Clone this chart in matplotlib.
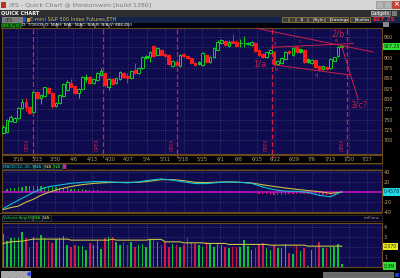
import matplotlib
matplotlib.use('Agg')
import matplotlib.pyplot as plt
from matplotlib.patches import Rectangle
import numpy as np

# ---------------- data ----------------
opens = [717.5,720.7,746.6,745.0,753.2,777.5,793.5,781.3,769.2,817.7,801.7,807.3,827.5,813.9,783.0,789.6,807.3,821.9,839.6,831.6,
         813.9,824.3,848.6,854.2,838.9,846.1,858.3,863.9,828.4,847.9,838.2,848.6,862.4,856.1,850.3,870.4,863.9,874.5,899.3,901.2,
         928.7,906.8,918.9,909.2,906.8,880.1,890.5,880.1,909.2,904.4,898.8,888.0,884.2,882.5,906.8,890.5,902.7,918.9,935.2,941.5,
         928.7,940.8,939.2,935.2,935.0,933.5,931.1,936.7,918.9,909.2,902.7,910.9,914.8,884.9,888.0,896.6,917.5,906.8,925.5,914.8,
         918.9,890.5,886.7,894.9,880.1,872.4,878.7,874.5,893.0,904.4,925.5]
highs = [736.9,751.5,761.2,756.0,780.0,799.3,801.7,783.0,820.0,820.0,811.0,830.0,830.0,816.0,793.0,812.0,839.0,846.1,848.0,834.0,
         826.0,855.0,860.0,857.0,851.0,865.0,874.5,866.0,851.0,850.0,853.0,869.0,865.0,862.0,871.0,886.7,877.0,904.0,907.0,917.0,
         931.0,925.5,921.0,911.0,909.0,895.0,893.0,909.0,912.0,906.0,901.0,890.0,892.0,913.0,909.0,905.0,925.0,942.0,946.0,944.0,
         942.0,957.5,942.0,944.9,953.0,939.0,941.0,939.0,921.0,911.0,917.0,921.0,917.0,895.0,901.0,917.0,920.0,925.0,928.0,923.0,
         921.0,899.0,897.0,897.0,882.0,882.0,881.0,899.0,903.0,929.0,930.0]
lows = [715.1,717.5,744.2,743.0,751.0,776.0,771.6,763.0,766.0,799.0,787.9,805.0,812.0,777.5,781.0,788.0,805.0,820.0,828.0,811.0,
        801.7,822.0,842.0,836.0,836.0,844.0,856.0,830.0,822.0,834.0,836.0,846.0,852.0,838.0,848.0,861.0,861.0,872.0,897.0,890.5,
        902.0,905.0,904.0,902.0,882.0,878.0,880.0,878.0,902.0,896.0,884.0,880.0,882.0,880.0,888.0,888.0,900.0,917.0,933.0,929.0,
        926.0,935.0,926.0,927.0,927.0,931.0,929.0,914.0,904.0,900.0,900.0,908.0,882.0,882.0,886.0,894.0,910.0,905.0,912.0,912.0,
        888.0,888.0,884.0,876.0,868.0,870.0,870.0,872.0,891.0,902.0,924.0]
closes = [732.8,749.1,756.3,753.2,777.5,793.5,779.9,765.3,817.7,801.7,809.7,828.4,813.9,783.0,791.0,809.7,836.4,842.0,829.9,813.9,
          824.3,852.7,854.2,838.9,848.6,862.4,868.7,834.0,848.6,836.4,850.3,866.3,854.2,850.3,868.7,863.9,874.5,901.2,904.4,914.8,
          904.4,923.0,906.8,904.4,884.2,893.0,882.5,906.8,904.4,898.8,886.7,882.5,889.8,910.9,890.5,902.7,923.0,939.2,943.2,931.1,
          939.2,936.7,928.7,936.7,937.0,936.7,939.2,916.5,906.8,902.7,914.8,918.9,884.9,893.0,899.0,914.8,912.7,923.0,914.8,920.7,
          890.5,896.6,894.9,878.7,872.4,880.1,872.4,896.6,901.2,927.0,928.7]
volumes = [3.24,2.57,2.84,2.9,2.9,3.5,2.84,1.9,3.0,2.5,3.17,2.9,2.57,2.34,2.77,2.84,3.07,2.17,2.0,2.17,
           2.1,2.1,1.67,2.4,2.17,2.57,1.74,2.84,3.0,3.0,2.5,2.17,2.5,2.17,2.5,2.0,2.17,2.24,2.0,2.74,
           2.74,2.5,2.17,2.5,2.0,2.24,2.17,2.0,2.17,2.84,2.5,2.24,2.17,2.0,2.5,2.24,2.0,2.24,2.17,2.0,
           1.9,2.0,2.0,2.0,2.67,2.1,1.67,1.9,2.17,2.34,1.9,1.67,2.17,1.84,1.84,2.24,1.4,1.34,2.17,1.57,
           1.9,0.1,1.67,2.0,2.5,1.84,1.9,2.0,2.0,2.24,0.3]
vol_avg_idx = [0,2,5,8,17,18,28,29,30,38,39,42,43,47,48,53,54,59,60,70,71,80,81,90]
vol_avg_val = [2.34,2.5,2.57,2.77,2.77,2.67,2.67,2.77,2.67,2.67,2.74,2.74,2.5,2.5,2.4,2.4,2.34,2.34,2.24,2.24,2.17,2.17,2.07,2.07]

macd_idx = [0,2,4,6,8,10,12,15,18,21,24,27,30,33,36,39,42,45,48,51,54,57,60,63,66,69,72,75,78,81,84,87,90]
macd_val = [-34,-25,-17,-9,-1,6,10.5,14,17.5,19.5,21,21,19.6,18.5,20.5,24,26.5,24,20.5,17,17,19,20.5,19.5,17.5,10,4.5,1.5,1.2,-1,-7,-10,0.5]
macd_avg = [-36,-32,-29,-21,-15,-7,-1,6,11,14.9,17.3,18.8,19.6,19.6,19.6,22,25,25,23,19.5,19,20,20.4,19.6,18.2,14.5,11,8,5.2,2.8,0.5,-3,-0.5]
macd_diff = [2,5,7,8,10,11,12,13,12,13,12,11,11,10,9,8,7,7,6,5,5,5,4,4,3,3,2,2,1,0.5,0,-0.5,-1,-1,0,0.5,1,1.5,2,
             2,2,1.5,1.5,1,0,-0.5,-1,-1.5,-2,-2.5,-2.5,-2,-1.5,-1,-0.5,0,0.5,0.5,0.5,0.5,0,0,-0.5,-0.5,-1,
             -1,-2,-3,-4,-4.5,-5,-5.5,-6,-6,-6,-5.5,-5,-4.5,-4,-4,-3.5,-3.5,-4,-5,-6,-6.5,-6.5,-6,-4,-2,0.5]

week_labels = ['3/16','3/23','3/30','4/6','4/13','4/20','4/27','5/4','5/11','5/18','5/25','6/1','6/8','6/15',
               '6/22','6/29','7/6','7/13','7/20','7/27']
price_ticks = [700,725,750,775,800,825,850,875,900,925,950]
price_tick_labels = ['700','725','750','775','800','825','850','875','900','','950']
macd_ticks = [-40, -20, 20, 40]
vol_ticks = [1, 2, 3, 4]
vol_tick_labels = ['1', '', '3', '4']
expiry_idx = [7.9, 26.5, 46.3, 71.5, 91.5]
last_price = '927.25'

# trend lines (idx, price)
trend_lines = [((66.9, 972.3), (98.3, 914.1)),
               ((71.4, 925.5), (93.1, 934.7)),
               ((72.3, 882.5), (92.2, 858.3)),
               ((90.0, 927.2), (94.4, 797.9))]
wave_big = [('2/b', 89.0, 956.6), ('1/a', 68.3, 883.8), ('3/c?', 94.6, 785.5)]
wave_small = [('a', 72.0, 933.5), ('b', 72.5, 872.0), ('c', 78.9, 939.0), ('d', 83.2, 856.6), ('e', 88.7, 941.5)]

# ---------------- style ----------------
W, H = 400, 278
NAVY = '#0e0b4f'
GRID = '#55557a'
GREEN = '#10d020'
RED = '#ff1a1a'
ANN = '#d0204a'
TAN = '#bca27a'
BROWN = '#6a4a1c'

fig = plt.figure(figsize=(W/100, H/100), dpi=100)
fig.patch.set_facecolor('black')

def pax(x0, y0, x1, y1, **kw):
    return fig.add_axes([x0/W, 1 - y1/H, (x1-x0)/W, (y1-y0)/H], **kw)

bg = pax(0, 0, W, H)
bg.set_xlim(0, W); bg.set_ylim(H, 0); bg.axis('off')

def rect(x, y, w, h, fc, ec='none', lw=0.5, z=1):
    bg.add_patch(Rectangle((x, y), w, h, facecolor=fc, edgecolor=ec, lw=lw, zorder=z))

def txt(x, y, s, c='white', fs=3.5, ha='left', weight='normal', z=3):
    bg.text(x, y, s, color=c, fontsize=fs, ha=ha, va='center', weight=weight, zorder=z)

# title bar
rect(0, 0, 400, 10, '#d6d6d6')
rect(1, 2, 5, 6, '#c03020')
txt(9, 5, '/ES - Quick Chart @ thinkorswim [build 1380]', '#7a7a7a', 4.5)
rect(376, 1, 7, 7, '#b4b4b4', '#909090')
rect(384, 1, 7, 7, '#b4b4b4', '#909090')
rect(392, 1, 8, 7, '#d04030', '#a03020')
txt(396, 4.5, '×', 'white', 5, 'center', 'bold')
# quick chart row
rect(0, 10, 400, 6.5, '#2e2e2e')
txt(1, 13.3, 'QUICK CHART', 'white', 3.6, weight='bold')
rect(371, 10.7, 19, 5, '#5a5a5a', '#8a8a8a')
txt(380.5, 13.3, 'Gadgets', 'white', 3.3, 'center')
rect(392, 10.7, 5, 5, '#7a7a7a')
# toolbar row
rect(0, 16.5, 400, 6.5, '#15244a')
rect(2, 17.2, 20, 5, '#7a7a7a', '#9a9a9a')
txt(5, 19.7, '/ES', '#2a2a2a', 3.3)
rect(22.5, 17.2, 3, 5, '#2050c0')
rect(26.5, 17.7, 3, 4, '#e0a020')
txt(30, 19.7, 'E-mini S&P 500 Index Futures,ETH', '#e8c030', 3.6)
for x0, x1, lab in [(282, 288, ''), (289, 295, ''), (296, 307, '1|'), (308, 313, ''), (313, 324, 'Style'),
                    (325, 330, ''), (330, 348, 'Drawings'), (350, 355, ''), (355, 370, 'Studies')]:
    rect(x0, 17.2, x1 - x0, 5, '#3c3c3c', '#a08040')
    if lab:
        txt((x0 + x1) / 2, 19.7, lab, 'white', 3.0, 'center')
txt(373, 19.7, last_price, '#ff2020', 4.2, weight='bold')
# info row
rect(0, 23, 400, 5, '#00000c')
rect(1, 23.4, 19, 4.3, '#004a00', '#208020')
txt(2.5, 25.5, '/ES 2y D', '#40f040', 3.0)
for x0, x1, lab in [(21, 43, 'D: 7/16/09'), (44, 56, 'O: N/A'), (57, 68, 'H: N/A'), (69, 80, 'L: N/A'),
                    (81, 94, 'C: N/A'), (95, 108, 'R: N/A'), (109, 128, 'V: 886,400')]:
    rect(x0, 23.4, x1 - x0, 4.3, '#0a0a0a', '#606060')
    txt(x0 + 1, 25.5, lab, 'white', 3.0)
rect(383, 21.5, 6, 5.5, '#8a8a8a')

n = len(opens)
xs = np.arange(n)
xl = (-0.35, 100.7)
week_pos = 4.0 + 4.88 * np.arange(len(week_labels))

def style_panel(a):
    a.set_facecolor(NAVY)
    a.set_xlim(*xl)
    for s in a.spines.values():
        s.set_color(BROWN); s.set_linewidth(0.8)
    a.set_xticks(week_pos)
    a.tick_params(axis='x', length=0, labelbottom=False)
    a.grid(True, color=GRID, ls=(0, (1, 2)), lw=0.5)
    a.set_axisbelow(True)
    a.yaxis.tick_right()
    a.tick_params(axis='y', length=0, labelsize=3.5, labelcolor=TAN, pad=1.5)

# ---------------- main price panel ----------------
ax = pax(2, 28, 382, 154)
style_panel(ax)
ax.set_ylim(666.5, 972.3)
ax.set_yticks(price_ticks)
ax.set_yticklabels(price_tick_labels)
for i in range(n):
    o, h, l, c = opens[i], highs[i], lows[i], closes[i]
    up = c >= o
    col = GREEN if up else RED
    ax.vlines(i, l, h, color=col, lw=0.7, zorder=3)
    bot = min(o, c); ht = max(abs(c - o), 1.5)
    ax.add_patch(Rectangle((i - 0.36, bot), 0.72, ht, facecolor=(NAVY if up and ht > 7 else col),
                           edgecolor=col, lw=0.7, zorder=4))
for e in expiry_idx:
    ax.axvline(e, color=ANN, lw=0.9, ls=(0, (4, 2)), zorder=2)
    ax.text(e - 0.8, 690, 'OPEX', color=ANN, fontsize=3.3, rotation=90, ha='right', va='center', zorder=5)
for (x0, y0), (x1, y1) in trend_lines:
    ax.plot([x0, x1], [y0, y1], color=ANN, lw=0.7, zorder=6, clip_on=True)
for s, x, y in wave_big:
    ax.text(x, y, s, color=ANN, fontsize=6, ha='center', va='center', zorder=7)
for s, x, y in wave_small:
    ax.text(x, y, s, color=ANN, fontsize=4, ha='center', va='center', zorder=7)
ax.text(1.005, (927.25 - 666.5) / (972.3 - 666.5), last_price, transform=ax.transAxes, fontsize=3.4,
        color='#003000', ha='left', va='center', zorder=8,
        bbox=dict(boxstyle='square,pad=0.25', fc='#30e030', ec='none'), clip_on=False)

# ---------------- date strip ----------------
dax = pax(2, 155, 382, 163)
dax.set_facecolor('black'); dax.set_xlim(*xl); dax.set_ylim(0, 1)
dax.set_xticks([]); dax.set_yticks([])
for s in dax.spines.values():
    s.set_color(BROWN); s.set_linewidth(0.8)
for p, lab in zip(week_pos, week_labels):
    dax.text(p, 0.45, lab, color=TAN, fontsize=3.5, ha='center', va='center')
for e in expiry_idx:
    dax.plot([e, e], [0.75, 1], color=ANN, lw=0.8)

# ---------------- MACD header ----------------
rect(2, 163.8, 31, 5.5, '#06101e', '#405060')
txt(3, 166.6, 'MACD(12, 26, 9)', '#20d0e0', 3.0)
rect(34, 163.8, 9, 5.5, '#06101e', '#405060'); txt(35, 166.6, 'N/A', '#20d0e0', 3.0)
rect(44, 163.8, 8.5, 5.5, '#06101e', '#405060'); txt(45, 166.6, 'N/A', '#d8d040', 3.0)
rect(53, 163.8, 9, 5.5, '#06101e', '#405060'); txt(54, 166.6, 'N/A', '#30d030', 3.0)
rect(63, 163.8, 2.5, 5.5, '#c020c0')
rect(66, 163.8, 316, 5.5, '#00002c', '#403020')

# ---------------- MACD panel ----------------
mx = pax(2, 170, 382, 212)
style_panel(mx)
mx.set_ylim(-41, 44.7)
mx.set_yticks(macd_ticks)
mx.set_yticklabels([str(t) for t in macd_ticks])
dcol = ['#10b020' if d >= 0 else '#d01860' for d in macd_diff]
mx.bar(xs, macd_diff, width=0.35, color=dcol, zorder=2)
mx.axhline(0, color='#c010c0', lw=1.2, zorder=3)
mx.plot(macd_idx, macd_avg, color='#c8c040', lw=0.8, zorder=4)
mx.plot(macd_idx, macd_val, color='#10c0d8', lw=0.8, zorder=5)
mx.text(1.005, 41 / 85.7, '0.4578', transform=mx.transAxes, fontsize=3.3, color='#003040', ha='left',
        va='center', bbox=dict(boxstyle='square,pad=0.25', fc='#20d8e8', ec='none'), clip_on=False)

# ---------------- Volume header ----------------
rect(0, 212.5, 382, 1.2, BROWN)
rect(2, 215, 30, 5.8, '#06101e', '#405060')
txt(2.8, 217.9, 'Volume Avg(50)', '#30d030', 2.8)
rect(33, 215, 8.5, 5.8, '#06101e', '#405060'); txt(34, 217.9, 'N/A', '#30d030', 3.0)
rect(42, 215, 8.5, 5.8, '#06101e', '#405060'); txt(43, 217.9, 'N/A', '#d8d040', 3.0)
rect(51, 215, 331, 5.8, '#00002c', '#403020')
txt(380, 217.9, 'millions', TAN, 3.0, 'right')

# ---------------- Volume panel ----------------
vx = pax(2, 223, 382, 267)
style_panel(vx)
vx.set_ylim(0, 4.37)
vx.set_yticks(vol_ticks)
vx.set_yticklabels(vol_tick_labels)
vcol = ['#10c030' if closes[i] >= opens[i] else '#d01848' for i in range(n)]
vx.bar(xs, volumes, width=0.4, color=vcol, zorder=2)
vx.plot(vol_avg_idx, vol_avg_val, color='#c8c040', lw=0.8, zorder=3)
vx.text(1.005, 2.07 / 4.37, '2,070', transform=vx.transAxes, fontsize=3.3, color='#303000', ha='left',
        va='center', bbox=dict(boxstyle='square,pad=0.25', fc='#e8e820', ec='none'), clip_on=False)
vx.text(1.005, 0.02, '0.3M', transform=vx.transAxes, fontsize=3.3, color='#003000', ha='left',
        va='center', bbox=dict(boxstyle='square,pad=0.25', fc='#30e030', ec='none'), clip_on=False)

# ---------------- bottom toolbar ----------------
for x0 in [1, 8.5, 16, 23.5]:
    rect(x0, 270.5, 6.5, 6.5, '#a8a8a8', '#d0d0d0')
bg.add_patch(plt.Polygon([[30, 272], [30, 276], [27.5, 274]], closed=True, color='#2040ff', zorder=2))
rect(323, 272, 70, 5, '#6a6a6a', '#8a8a8a')
rect(395, 273, 4, 4, '#2040c0')

fig.savefig('out.png', dpi=100, facecolor=fig.get_facecolor())
